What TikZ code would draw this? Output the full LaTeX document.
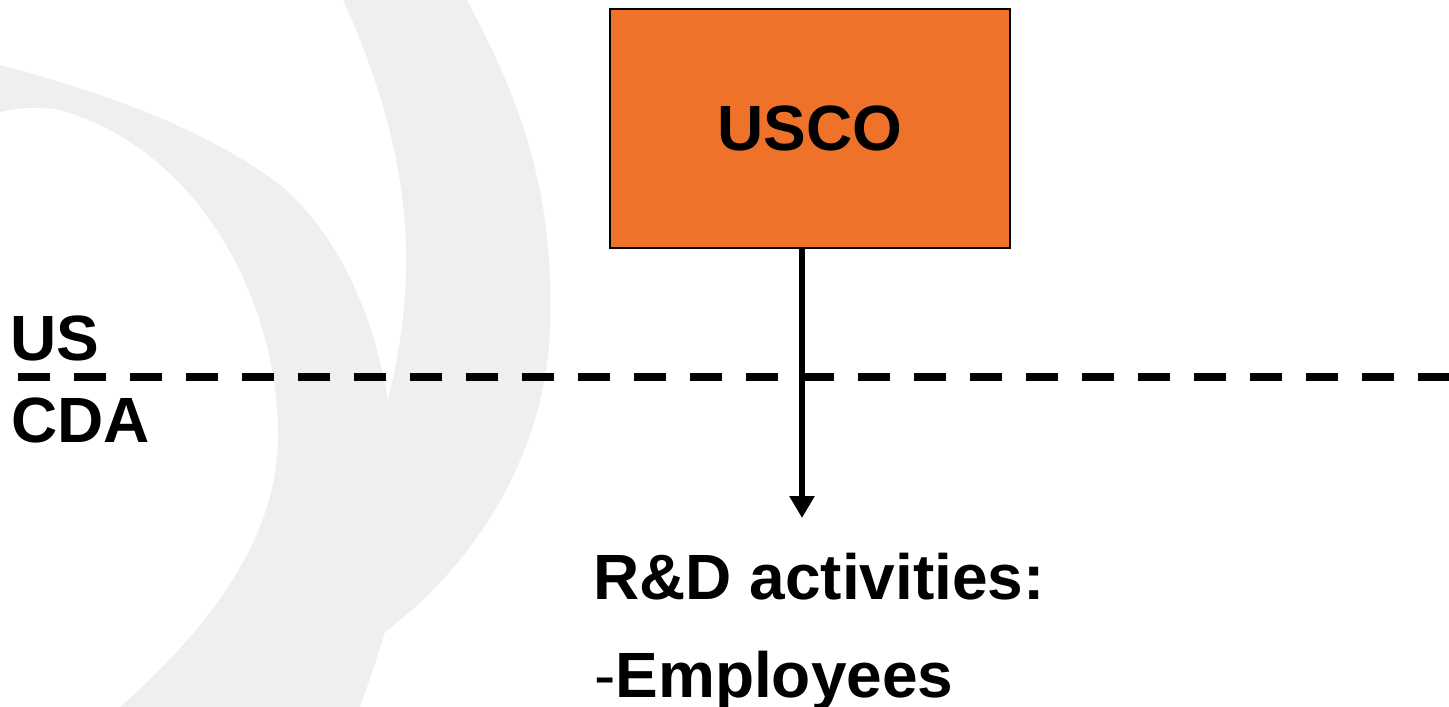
\documentclass[tikz,border=0pt]{standalone}
\usepackage{fontspec}
\setmainfont{Liberation Sans}
\usetikzlibrary{arrows.meta}
\definecolor{wmgray}{RGB}{238,239,240}
\definecolor{uscoorange}{RGB}{238,114,41}
\tikzset{
  wm/.style={fill=wmgray},
  bigtext/.style={font=\fontsize{64pt}{70pt}\selectfont\bfseries, inner sep=0pt, anchor=base west},
  entitybox/.style={draw=black, line width=2.5pt, fill=uscoorange, minimum width=400pt, minimum height=239pt, inner sep=0pt, font=\fontsize{64pt}{70pt}\selectfont\bfseries},
  border/.style={draw=black, line width=8pt, dash pattern=on 32pt off 24pt},
  flow/.style={draw=black, line width=6.5pt, -{Triangle[length=22pt,width=24pt]}}
}
\begin{document}
\begin{tikzpicture}[x=1pt,y=-1pt]
\useasboundingbox (0,0) rectangle (1449,707);
% watermark
\fill[wm] (0,65) .. controls (100,92) and (200,125) .. (280,185)
  .. controls (340,235) and (375,320) .. (388,400)
  .. controls (412,300) and (425,180) .. (343,0)
  -- (467,0)
  .. controls (520,100) and (555,190) .. (550,330)
  .. controls (545,450) and (480,560) .. (385,632)
  -- (373,670) -- (360,707)
  -- (120,707)
  .. controls (230,610) and (280,520) .. (278,430)
  .. controls (276,300) and (200,150) .. (60,110)
  .. controls (30,105) and (10,110) .. (0,112)
  -- cycle;
% border line
\coordinate (bl) at (18,377);
\coordinate (br) at (1452,377);
\draw[border] (bl) -- (br);
% labels
\node[bigtext] (us) at (10,360) {US};
\node[bigtext] (cda) at (11,442) {CDA};
% box
\node[entitybox] (usco) at (810,128.5) {USCO};
% arrow
\coordinate (tip) at (802,518);
\draw[flow] (tip |- usco.south) -- (tip);
% text
\node[bigtext] (rd) at (593,599) {R\&D activities:};
\node[bigtext] (emp) at (594,697) {{\mdseries -}Employees};
\end{tikzpicture}
\end{document}
